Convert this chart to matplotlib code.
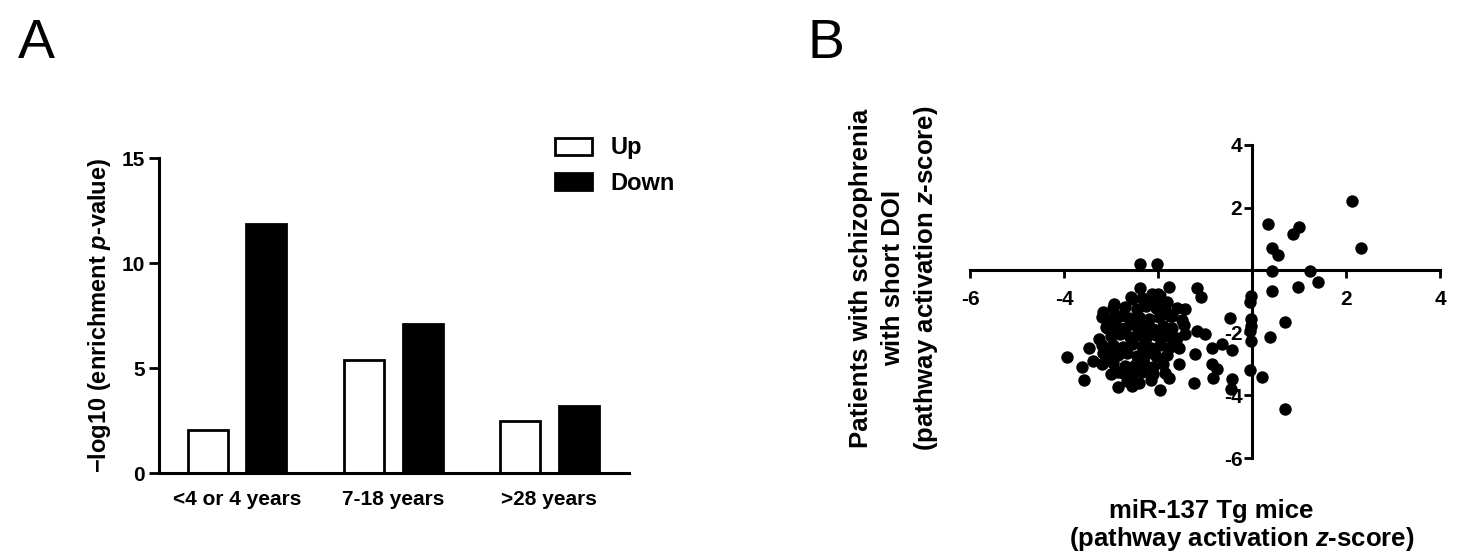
import matplotlib
matplotlib.use('Agg')
import matplotlib.pyplot as plt
from matplotlib.patches import Patch
from matplotlib.ticker import FixedLocator, FixedFormatter

plt.rcParams['font.family'] = ['Liberation Sans', 'DejaVu Sans']
plt.rcParams['font.weight'] = 'bold'
plt.rcParams['axes.labelweight'] = 'bold'
plt.rcParams['mathtext.fontset'] = 'custom'
plt.rcParams['mathtext.rm'] = 'Liberation Sans:bold'
plt.rcParams['mathtext.it'] = 'Liberation Sans:italic:bold'

# panel A data
groups = ['<4 or 4 years', '7-18 years', '>28 years']
up_vals = [2.06, 5.40, 2.46]
down_vals = [11.87, 7.11, 3.17]

# panel B data (pathway activation z-scores)
mice_z = [2.13, 2.32, 0.35, 0.99, 0.87, 0.43, 0.55, 0.43, 1.24, 1.40, 0.97, 0.43,
          0.70, 0.39, 0.70, 0.21, -0.04, -0.03, -0.04, -0.03, -0.03, -0.04, -0.03,
          -0.43, -0.46, -0.43, -0.44, -2.38, -2.02, -1.17, -1.08, -1.24, -3.94,
          -3.58, -3.62, -3.46, -3.39, -3.16, -3.16, -2.94, -3.09, -2.85, -2.55,
          -1.95, -1.77, -1.77, -2.38, -2.57, -1.42, -1.56, -1.56, -1.42, -1.17,
          -0.99, -0.85, -0.64, -0.85, -0.74, -0.82, -1.21, -1.70, -1.81, -1.70,
          -1.99, -2.13,
          -2.55, -2.35, -2.15, -1.95,
          -2.95, -2.70, -2.45, -2.25, -2.05, -1.85, -1.60,
          -3.20, -3.00, -2.80, -2.62, -2.40, -2.20, -1.97, -1.75, -1.50,
          -3.10, -2.90, -2.70, -2.50, -2.30, -2.10, -1.90, -1.70, -1.45,
          -3.00, -2.80, -2.60, -2.45, -2.25, -2.05, -1.85, -1.60,
          -3.20, -2.95, -2.75, -2.55, -2.35, -2.15, -1.95, -1.75,
          -3.05, -2.85, -2.65, -2.45, -2.25, -2.05, -1.80,
          -3.20, -2.95, -2.70, -2.50, -2.30, -2.10, -1.90,
          -3.00, -2.75, -2.55, -2.35, -2.10, -1.85,
          -2.65, -2.40, -2.15,
          -3.25, -3.05, -2.85]
patients_z = [2.21, 0.70, 1.49, 1.38, 1.15, 0.70, 0.49, -0.02, -0.02, -0.39, -0.53, -0.68,
              -1.67, -2.12, -4.44, -3.40, -3.19, -0.82, -1.03, -1.56, -1.78, -1.94, -2.26,
              -2.55, -1.53, -3.48, -3.80, 0.19, 0.19, -0.57, -0.87, -3.59, -2.77,
              -3.51, -3.09, -2.49, -2.89, -2.66, -1.35, -1.09, -1.86, -3.72, -3.69,
              -3.83, -3.45, -0.53, -0.57, -0.87, -1.24, -2.47, -3.00, -2.04, -1.94,
              -2.04, -2.47, -2.36, -3.00, -3.16, -3.43, -2.68, -2.15, -1.03, -1.46,
              -0.77, -0.77,
              -0.92, -0.88, -0.95, -0.90,
              -1.22, -1.18, -1.25, -1.15, -1.22, -1.28, -1.20,
              -1.50, -1.55, -1.45, -1.52, -1.48, -1.56, -1.50, -1.47, -1.58,
              -1.80, -1.78, -1.85, -1.76, -1.82, -1.88, -1.79, -1.84, -1.75,
              -2.10, -2.05, -2.12, -2.08, -2.15, -2.06, -2.11, -2.18,
              -2.40, -2.38, -2.45, -2.36, -2.42, -2.48, -2.39, -2.44,
              -2.70, -2.72, -2.66, -2.74, -2.68, -2.75, -2.71,
              -3.00, -2.96, -3.05, -3.02, -2.98, -3.08, -3.01,
              -3.30, -3.28, -3.35, -3.25, -3.32, -3.27,
              -3.55, -3.60, -3.52,
              -2.20, -2.60, -3.25]

fig = plt.figure(figsize=(14.6, 5.57), dpi=100)

# ---- A: bar chart
ax1 = fig.add_axes([0.1089, 0.1508, 0.3219, 0.5655])
pos = list(range(len(groups)))
w = 0.256
off = 0.188
ax1.bar([p - off for p in pos], up_vals, w, color='white', edgecolor='black', linewidth=2, label='Up')
ax1.bar([p + off for p in pos], down_vals, w, color='black', edgecolor='black', linewidth=2, label='Down')
ax1.set_xlim(-0.5, 2.51)
ax1.set_ylim(0, 15)
ax1.set_yticks([0, 5, 10, 15])
ax1.set_xticks(pos)
ax1.set_xticklabels(groups)
ax1.tick_params(axis='x', length=0, pad=12, labelsize=15)
ax1.tick_params(axis='y', length=7, width=2, pad=3, labelsize=15)
for s in ['top', 'right']:
    ax1.spines[s].set_visible(False)
for s in ['left', 'bottom']:
    ax1.spines[s].set_linewidth(2.2)
ax1.set_ylabel(r'$-$log10 (enrichment $\mathit{p}$-value)', fontsize=17, fontweight='bold', labelpad=6)

handles = [Patch(facecolor='white', edgecolor='black', linewidth=2, label='Up'),
           Patch(facecolor='black', edgecolor='black', linewidth=2, label='Down')]
fig.legend(handles=handles, loc='upper left', bbox_to_anchor=(0.380, 0.755), frameon=False,
           prop={'size': 17, 'weight': 'bold'}, handlelength=1.57, handleheight=0.72,
           handletextpad=0.8, labelspacing=0.52, borderaxespad=0, borderpad=0)

# ---- B: scatter
ax2 = fig.add_axes([0.6644, 0.1777, 0.3219, 0.562])
ax2.scatter(mice_z, patients_z, s=80, color='black', zorder=3, linewidths=0)
ax2.set_xlim(-6, 4)
ax2.set_ylim(-6, 4)
ticks = [-6, -4, -2, 0, 2, 4]
labs = ['-6', '-4', '-2', '', '2', '4']
ax2.xaxis.set_major_locator(FixedLocator(ticks))
ax2.xaxis.set_major_formatter(FixedFormatter(labs))
ax2.yaxis.set_major_locator(FixedLocator(ticks))
ax2.yaxis.set_major_formatter(FixedFormatter(labs))
ax2.spines['left'].set_position(('data', 0))
ax2.spines['bottom'].set_position(('data', 0))
for s in ['top', 'right']:
    ax2.spines[s].set_visible(False)
for s in ['left', 'bottom']:
    ax2.spines[s].set_linewidth(2.2)
ax2.tick_params(axis='x', length=6, width=2, pad=8, labelsize=15)
ax2.tick_params(axis='y', length=6, width=2, pad=1, labelsize=15)

fig.text(0.5897, 0.501, 'Patients with schizophrenia', rotation=90, ha='center', va='center', fontsize=18.5)
fig.text(0.6116, 0.501, 'with short DOI', rotation=90, ha='center', va='center', fontsize=18.5)
fig.text(0.6342, 0.501, r'(pathway activation $\mathit{z}$-score)', rotation=90, ha='center', va='center', fontsize=18.5)
fig.text(0.8295, 0.0700, 'miR-137 Tg mice', ha='center', va='baseline', fontsize=18.5)
fig.text(0.8507, 0.0197, r'(pathway activation $\mathit{z}$-score)', ha='center', va='baseline', fontsize=18.5)

# panel letters
fig.text(0.012, 0.896, 'A', fontsize=40, fontweight='normal', va='baseline',
         family=['Liberation Sans Narrow', 'Liberation Sans'])
fig.text(0.5534, 0.896, 'B', fontsize=40, fontweight='normal', va='baseline',
         family=['Liberation Sans Narrow', 'Liberation Sans'])

fig.savefig('out.png', dpi=100)
